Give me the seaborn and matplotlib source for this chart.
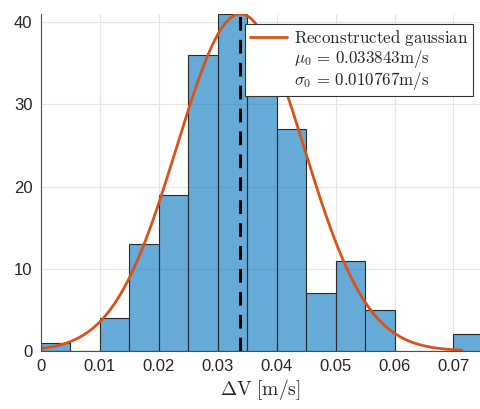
import numpy as np
import matplotlib
import matplotlib.pyplot as plt
import seaborn as sns
from matplotlib.lines import Line2D
from matplotlib.ticker import FuncFormatter

matplotlib.use('Agg')

# Histogram bins (width 0.005 m/s) and counts
bin_edges = [0.000, 0.005, 0.010, 0.015, 0.020, 0.025, 0.030, 0.035,
             0.040, 0.045, 0.050, 0.055, 0.060, 0.065, 0.070, 0.075]
bin_counts = [1, 0, 4, 13, 19, 36, 41, 32, 27, 7, 11, 5, 0, 0, 2]

# Reconstructed gaussian parameters
mu0 = 0.033843
sigma0 = 0.010767
peak = 41
curve_start, curve_end = 0.0, 0.0714

sns.set_theme(style="whitegrid")
plt.rcParams['font.family'] = ['Liberation Sans', 'DejaVu Sans']
plt.rcParams['mathtext.fontset'] = 'cm'

bin_centers = [(a + b) / 2 for a, b in zip(bin_edges[:-1], bin_edges[1:])]

fig = plt.figure(figsize=(4.8, 4.09), dpi=100)
ax = fig.add_axes([0.085, 0.142, 0.915, 0.824])

sns.histplot(x=bin_centers, weights=bin_counts, bins=bin_edges, ax=ax,
             color="#0072BD", alpha=0.6, edgecolor="#2b2b2b", linewidth=0.8)

# Gaussian curve
xs = np.linspace(curve_start, curve_end, 300)
ys = peak * np.exp(-0.5 * ((xs - mu0) / sigma0) ** 2)
ax.plot(xs, ys, color="#D95319", linewidth=2.0)

# Mean line
ax.axvline(mu0, color="black", linestyle=(0, (4.5, 3)), linewidth=2.2)

ax.set_xlim(0, 0.0745)
ax.set_ylim(0, 41)
ax.set_xticks([0, 0.01, 0.02, 0.03, 0.04, 0.05, 0.06, 0.07])
ax.set_yticks([0, 10, 20, 30, 40])
ax.xaxis.set_major_formatter(FuncFormatter(lambda v, p: "0" if v == 0 else f"{v:g}"))
ax.tick_params(labelsize=12, colors="#262626", length=0, pad=6)
ax.grid(True, color="#e6e6e6", linewidth=0.8)
ax.set_axisbelow(True)
for side in ["top", "right"]:
    ax.spines[side].set_visible(False)
for side in ["left", "bottom"]:
    ax.spines[side].set_color("#4d4d4d")
    ax.spines[side].set_linewidth(0.8)

ax.set_ylabel("")
ax.set_xlabel(r"$\Delta\mathrm{V}\ [\mathrm{m/s}]$", fontsize=14, color="#262626", labelpad=2)

handles = [Line2D([], [], color="#D95319", linewidth=2.0),
           Line2D([], [], color="none"),
           Line2D([], [], color="none")]
labels = [r"$\mathrm{Reconstructed\ gaussian}$",
          rf"$\mu_0\,=\,{mu0:.6f}\mathrm{{m/s}}$",
          rf"$\sigma_0\,=\,{sigma0:.6f}\mathrm{{m/s}}$"]
leg = ax.legend(handles, labels, loc="upper right", bbox_to_anchor=(0.983, 0.97),
                fontsize=12.2, frameon=True, fancybox=False, framealpha=1,
                handlelength=2.2, handletextpad=0.4, borderpad=0.25,
                labelspacing=0.0, borderaxespad=0)
leg.get_frame().set_edgecolor("#333333")
leg.get_frame().set_linewidth(0.8)

plt.savefig("out.png", dpi=100)
plt.close()
